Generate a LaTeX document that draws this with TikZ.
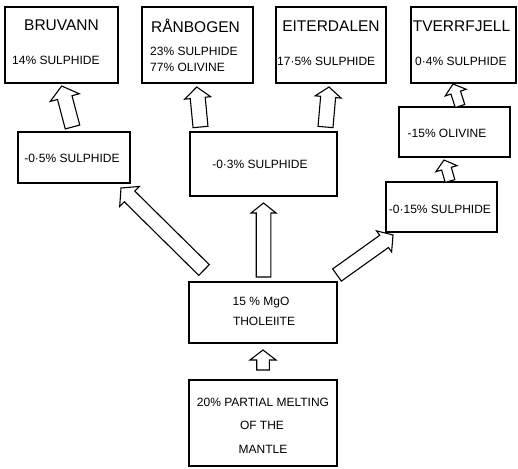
\documentclass[tikz,border=0pt]{standalone}
\usepackage{fontspec}
\setmainfont{Liberation Sans}
\usetikzlibrary{calc}
\newcommand\blockarrow[5]{% tail, tip, shaft half width, head half width, head length
  \coordinate (#1-hb) at ($(#2)!#5!(#1)$);
  \draw[barrow] ($(#1)!#3!90:(#2)$) -- ($(#1-hb)!#3!90:(#2)$) -- ($(#1-hb)!#4!90:(#2)$)
     -- (#2) -- ($(#1-hb)!#4!-90:(#2)$) -- ($(#1-hb)!#3!-90:(#2)$) -- ($(#1)!#3!-90:(#2)$) -- cycle;
}
\begin{document}
\begin{tikzpicture}[x=1pt,y=-1pt,
  box/.style={draw, line width=1.6pt, inner sep=0pt},
  barrow/.style={draw, fill=white, line width=1.1pt, line join=miter},
  ttl/.style={inner sep=0pt, font=\fontsize{15.5}{18}\selectfont},
  txt/.style={inner sep=0pt, font=\fontsize{12}{14}\selectfont}]
\useasboundingbox (0,0) rectangle (518,468);
% boxes
\node[box, minimum width=113pt, minimum height=76pt] (bru) at (61.5,45) {};
\node[box, minimum width=111pt, minimum height=76pt] (ran) at (197.5,45) {};
\node[box, minimum width=110pt, minimum height=76pt] (eit) at (331,45) {};
\node[box, minimum width=105pt, minimum height=76pt] (tve) at (463.5,45) {};
\node[box, minimum width=112pt, minimum height=51pt] (s05) at (74,157.5) {};
\node[box, minimum width=147pt, minimum height=64pt] (s03) at (263.5,164) {};
\node[box, minimum width=111pt, minimum height=50pt] (oli) at (454.5,132) {};
\node[box, minimum width=111pt, minimum height=50pt] (s015) at (441.5,207) {};
\node[box, minimum width=148pt, minimum height=61pt] (tho) at (263,312.5) {};
\node[box, minimum width=148pt, minimum height=86pt] (man) at (263,423) {};
% texts
\node[ttl] (bru-t) at (61.5,25) {BRUVANN};
\node[txt, anchor=west] (bru-s) at (12,60) {14\% SULPHIDE};
\node[ttl] (ran-t) at (195.5,26) {RÅNBOGEN};
\node[txt, anchor=west] (ran-s) at (150,51) {23\% SULPHIDE};
\node[txt, anchor=west] (ran-s2) at (150,67) {77\% OLIVINE};
\node[ttl] (eit-t) at (331,26) {EITERDALEN};
\node[txt, anchor=west] (eit-s) at (277,61) {17·5\% SULPHIDE};
\node[ttl] (tve-t) at (461.5,26) {TVERRFJELL};
\node[txt, anchor=west] (tve-s) at (415,61) {0·4\% SULPHIDE};
\node[txt] (s05-t) at (72,158) {-0·5\% SULPHIDE};
\node[txt] (s03-t) at (260,164) {-0·3\% SULPHIDE};
\node[txt] (oli-t) at (447,133) {-15\% OLIVINE};
\node[txt] (s015-t) at (440,209) {-0·15\% SULPHIDE};
\node[txt] (tho-t1) at (261,303) {15 \% MgO};
\node[txt] (tho-t2) at (264,321) {THOLEIITE};
\node[txt] (man-t1) at (263,402) {20\% PARTIAL MELTING};
\node[txt] (man-t2) at (262,425) {OF THE};
\node[txt] (man-t3) at (263,449) {MANTLE};
% arrow ends
\coordinate (a1t) at (263,370);   \coordinate (a1p) at (263,350);
\coordinate (a2t) at (263.5,277); \coordinate (a2p) at (263.5,203);
\coordinate (a3t) at (204,270);   \coordinate (a3p) at (121,188);
\coordinate (a4t) at (337,275);   \coordinate (a4p) at (393,235);
\coordinate (a5t) at (72.5,127);  \coordinate (a5p) at (61.7,86);
\coordinate (a6t) at (200.5,127); \coordinate (a6p) at (196.7,87);
\coordinate (a7t) at (325.5,127); \coordinate (a7p) at (329,87);
\coordinate (a8t) at (460,106);   \coordinate (a8p) at (453,84);
\coordinate (a9t) at (450,181);   \coordinate (a9p) at (444,160);
% block arrows
\blockarrow{a1t}{a1p}{6.3pt}{13pt}{10pt}
\blockarrow{a2t}{a2p}{7.3pt}{12.5pt}{10pt}
\blockarrow{a3t}{a3p}{7.5pt}{14pt}{12pt}
\blockarrow{a4t}{a4p}{7.5pt}{13pt}{11pt}
\blockarrow{a5t}{a5p}{7.5pt}{15pt}{12pt}
\blockarrow{a6t}{a6p}{7.5pt}{13pt}{11pt}
\blockarrow{a7t}{a7p}{7.5pt}{13pt}{10pt}
\blockarrow{a8t}{a8p}{5pt}{11pt}{9pt}
\blockarrow{a9t}{a9p}{5pt}{11pt}{9pt}
\end{tikzpicture}
\end{document}
